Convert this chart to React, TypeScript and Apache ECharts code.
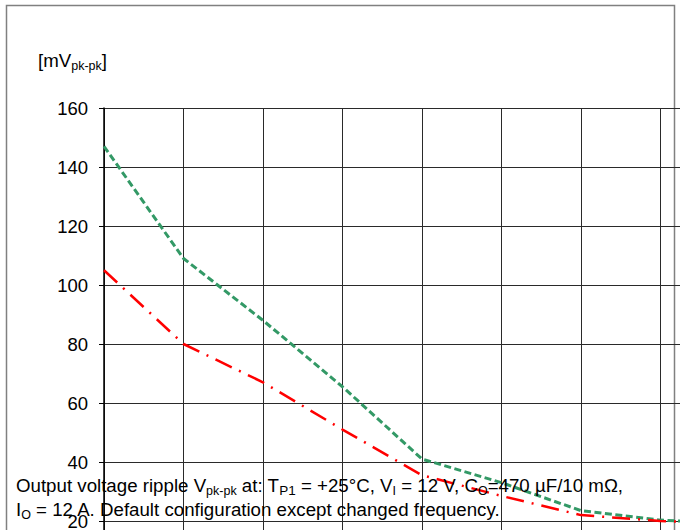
import React, { useEffect, useRef } from "react";
import * as echarts from "echarts";

// x positions (frequency steps; axis labels are outside the visible area)
const xSteps = [0, 1, 2, 3, 4, 5, 6, 7, 8];
// output ripple [mVpk-pk]
const greenSeries = [147, 109, 88, 65.5, 41, 33, 23.5, 20.3, 19];
const redSeries = [105, 80, 67, 51, 35.5, 28.5, 22, 20, 19];
const yTicks = { min: 0, max: 160, interval: 20 };

const FONT = "'Liberation Sans', Arial, sans-serif";

export default function App() {
  const ref = useRef<HTMLDivElement>(null);

  useEffect(() => {
    if (!ref.current) return;
    const chart = echarts.init(ref.current, undefined, { renderer: "svg" });

    const rich = {
      n: { fontSize: 18.7, lineHeight: 24, fontFamily: FONT, color: "#000" },
      sub: { fontSize: 12.5, lineHeight: 10, verticalAlign: "bottom", fontFamily: FONT, color: "#000" },
      sub2: { fontSize: 13.5, lineHeight: 16, verticalAlign: "bottom", fontFamily: FONT, color: "#000" },
    };

    chart.setOption({
      animation: false,
      backgroundColor: "#fff",
      grid: {
        left: 104,
        top: 108,
        right: -60,
        bottom: -50,
        containLabel: false,
        outerBoundsMode: "none",
      },
      xAxis: {
        type: "value",
        min: 0,
        max: 8,
        interval: 1,
        axisLine: { show: false },
        axisTick: { show: false },
        axisLabel: { show: false },
        splitLine: { show: true, lineStyle: { color: "#2a2a2a", width: 1 } },
      },
      yAxis: {
        type: "value",
        min: yTicks.min,
        max: yTicks.max,
        interval: yTicks.interval,
        axisLine: { show: true, lineStyle: { color: "#000", width: 1.5 } },
        axisTick: { show: true, inside: false, length: 5, lineStyle: { color: "#000" } },
        axisLabel: { show: true, margin: 16, fontSize: 18.5, fontFamily: FONT, color: "#000" },
        splitLine: { show: true, lineStyle: { color: "#2a2a2a", width: 1 } },
      },
      series: [
        {
          type: "line",
          data: xSteps.map((x, i) => [x, greenSeries[i]]),
          showSymbol: false,
          symbol: "none",
          lineStyle: { color: "#339966", width: 3, type: [7, 3.5] },
          z: 3,
        },
        {
          type: "line",
          data: xSteps.map((x, i) => [x, redSeries[i]]),
          showSymbol: false,
          symbol: "none",
          lineStyle: { color: "#ff0000", width: 2.5, type: [18, 8, 2, 8] },
          z: 4,
        },
      ],
      graphic: [
        {
          type: "rect",
          z: 0,
          silent: true,
          shape: { x: 6.5, y: 5.5, width: 668, height: 620 },
          style: { fill: "none", stroke: "#808080", lineWidth: 1.5 },
        },
        {
          type: "text",
          z: 10,
          x: 38,
          y: 60,
          style: {
            text: "{n|[mV}{sub|pk-pk}{n|]}",
            rich,
            verticalAlign: "middle",
            align: "left",
          },
        },
        {
          type: "text",
          z: 10,
          x: 16,
          y: 473,
          style: {
            text:
              "{n|Output voltage ripple V}{sub|pk-pk}{n| at: T}{sub2|P1}{n| = +25°C, V}{sub|I}{n| = 12 V, C}{sub|O}{n|=470 µF/10 mΩ,}\n" +
              "{n|I}{sub|O}{n| = 12 A. Default configuration except changed frequency.}",
            rich,
            verticalAlign: "top",
            align: "left",
          },
        },
      ],
    });

    return () => chart.dispose();
  }, []);

  return (
    <div
      ref={ref}
      style={{ position: "absolute", left: 0, top: 0, width: 680, height: 530 }}
    />
  );
}
